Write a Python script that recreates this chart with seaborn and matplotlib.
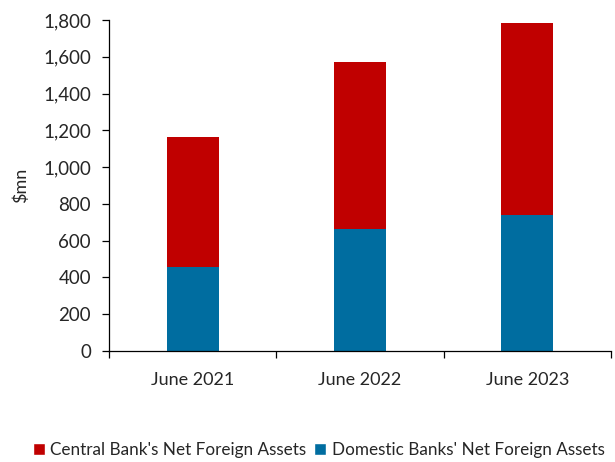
import matplotlib
matplotlib.use("Agg")
import matplotlib.pyplot as plt
from matplotlib.patches import Patch
from matplotlib.ticker import FuncFormatter, FixedLocator
import seaborn as sns
import pandas as pd

periods = ["June 2021", "June 2022", "June 2023"]
domestic_nfa = [459, 662, 738]
central_nfa = [705, 910, 1046]

RED = "#C00000"
BLUE = "#006DA0"

sns.set_theme(style="white")
plt.rcParams["font.family"] = ["Lato", "DejaVu Sans"]

df = pd.DataFrame({"period": periods, "domestic": domestic_nfa, "central": central_nfa})
df["total"] = df["domestic"] + df["central"]

fig = plt.figure(figsize=(6.15, 4.62), dpi=100)
ax = fig.add_axes([109 / 615, 111 / 462, 502 / 615, 331 / 462])

# Stacked bars: full stack in red, domestic share drawn over it in blue
sns.barplot(data=df, x="period", y="total", color=RED, saturation=1, width=0.31,
            linewidth=0, ax=ax)
sns.barplot(data=df, x="period", y="domestic", color=BLUE, saturation=1, width=0.31,
            linewidth=0, ax=ax)

ax.set_ylim(0, 1800)
ax.set_xlim(-0.5, 2.5)
ax.set_yticks(range(0, 1801, 200))
ax.yaxis.set_major_formatter(FuncFormatter(lambda v, p: f"{int(v):,}"))
ax.set_ylabel("$mn", fontsize=13, labelpad=10)
ax.set_xlabel("")

for s in ["top", "right"]:
    ax.spines[s].set_visible(False)
for s in ["left", "bottom"]:
    ax.spines[s].set_color("black")
    ax.spines[s].set_linewidth(0.9)

ax.tick_params(axis="y", which="major", direction="out", length=5, width=0.9, color="black",
               left=True, labelsize=13.5, pad=8)
ax.tick_params(axis="x", which="major", length=0, labelsize=13, pad=15)
ax.xaxis.set_minor_locator(FixedLocator([-0.5, 0.5, 1.5, 2.5]))
ax.tick_params(axis="x", which="minor", direction="out", length=5, width=0.9, color="black", bottom=True)

handles = [Patch(facecolor=RED, label="Central Bank's Net Foreign Assets"),
           Patch(facecolor=BLUE, label="Domestic Banks' Net Foreign Assets")]
fig.legend(handles=handles, loc="center", bbox_to_anchor=(0.518, 1 - 450 / 462),
           ncol=2, frameon=False, fontsize=12.3, handlelength=0.7, handleheight=0.7,
           handletextpad=0.3, columnspacing=0.5, borderaxespad=0, borderpad=0.1)

fig.savefig("out.png", dpi=100)
